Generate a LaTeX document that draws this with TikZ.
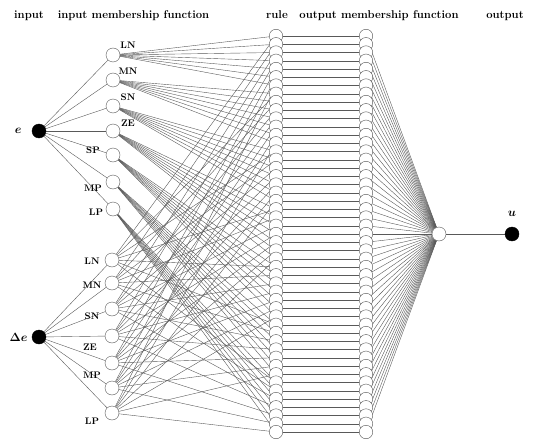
\documentclass[tikz,border=0pt]{standalone}
\usepackage{tikz}
\usetikzlibrary{positioning, calc, backgrounds}

\begin{document}
\begin{tikzpicture}[x=1pt, y=-1pt,
        header/.style={font=\bfseries\fontsize{11.3}{13}\selectfont, inner sep=0pt, anchor=base},
        mflabel/.style={font=\bfseries\fontsize{9.5}{11}\selectfont, inner sep=0pt},
        varlabel/.style={font=\fontsize{11.5}{13}\selectfont\boldmath, inner sep=0pt},
        wire/.style={draw=black!65, line width=0.4pt}]
        \def\ruletop{36}
        \def\rulestep{8.25}
        \useasboundingbox (0,0) rectangle (533,444);
        \node[header] (hInput) at (29,19) {input};
        \node[header] (hInMF) at (133.5,19) {input membership function};
        \node[header] (hRule) at (277,19) {rule};
        \node[header] (hOutMF) at (379,19) {output membership function};
        \node[header] (hOutput) at (505,19) {output};
        \begin{scope}[every node/.style={circle, draw=black, fill=black, inner sep=0pt, minimum size=14pt}]
            \node (inE) at (39,131) {};
            \node (inDE) at (39,337) {};
            \node (outU) at (512,234) {};
        \end{scope}
        \node[varlabel, left=10pt of inE] (lblE) {$e$};
        \node[varlabel, left=4pt of inDE] (lblDE) {$\Delta e$};
        \node[varlabel, above=10pt of outU] (lblU) {$u$};
        \begin{scope}[every node/.style={circle, draw=black!65, fill=white, inner sep=0pt, minimum size=14pt}]
            \foreach \y [count=\i] in {55,80,106,131,155,182,209}
                \node (emf\i) at (113,\y) {};
            \foreach \y [count=\i] in {260,283,309,336,363,388,413}
                \node (demf\i) at (112,\y) {};
            \node (outnode) at (439,234) {};
        \end{scope}
        \begin{scope}[every node/.style={circle, draw=black!65, fill=white, inner sep=0pt, minimum size=13.5pt}]
            \foreach \k in {1,...,49} {
                \node (rule\k) at (276,{\ruletop+\rulestep*(\k-1)}) {};
                \node (outmf\k) at (366,{\ruletop+\rulestep*(\k-1)}) {};
            }
        \end{scope}
        \foreach \t/\dx/\dy [count=\i] in {LN/15/-10, MN/15/-9, SN/15/-9, ZE/15/-8, SP/-20/-5, MP/-20/6, LP/-17/3}
            \node[mflabel] (lblEmf\i) at ($(emf\i)+(\dx,\dy)$) {\t};
        \foreach \t/\j/\dx/\dy in {LN/1/-20/1, MN/2/-20/2, SN/3/-20/7, ZE/4/-22/11, MP/5/-20/12, LP/7/-20/8}
            \node[mflabel] (lblDemf\j) at ($(demf\j)+(\dx,\dy)$) {\t};
        \begin{pgfonlayer}{background}
            \foreach \i in {1,...,7} {
                \draw[wire] (inE) -- (emf\i);
                \draw[wire] (inDE) -- (demf\i);
                \foreach \j in {1,...,7} {
                    \pgfmathtruncatemacro\ra{7*(\i-1)+\j}
                    \pgfmathtruncatemacro\rb{7*(\j-1)+\i}
                    \draw[wire] (emf\i) -- (rule\ra);
                    \draw[wire] (demf\i) -- (rule\rb);
                }
            }
            \foreach \k in {1,...,49} {
                \draw[wire] (rule\k) -- (outmf\k);
                \draw[wire] (outmf\k) -- (outnode);
            }
            \draw[wire] (outnode) -- (outU);
        \end{pgfonlayer}
    \end{tikzpicture}
\end{document}
